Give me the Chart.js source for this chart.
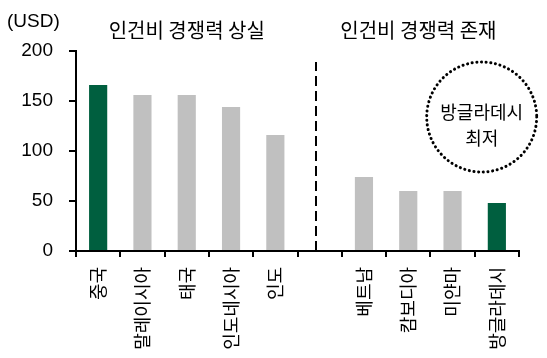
<!DOCTYPE html>
<html>
<head>
<meta charset="utf-8">
<script src="https://cdn.jsdelivr.net/npm/chart.js@4/dist/chart.umd.min.js"></script>
<style>
  html, body { margin: 0; padding: 0; background: #fff; }
  #wrap { width: 547px; height: 358px; }
</style>
</head>
<body>
<div id="wrap"><canvas id="wageChart" width="547" height="358"></canvas></div>
<script>
// Data (monthly wage, USD)
const countries = ["중국", "말레이시아", "태국", "인도네시아", "인도", "", "베트남", "캄보디아", "미얀마", "방글라데시"];
const wageUSD = [166, 156, 156, 144, 116, null, 74, 60, 60, 48];
const highlighted = [true, false, false, false, false, false, false, false, false, true];
const yTickValues = [0, 50, 100, 150, 200];
const groupTitles = ["인건비 경쟁력 상실", "인건비 경쟁력 존재"];
const noteLines = ["방글라데시", "최저"];
const unitLabel = "(USD)";

const GREEN = "#005f3f";
const GRAY = "#c0c0c0";
const KR_FONT = "'Noto Sans CJK KR', 'Noto Sans', sans-serif";
const NUM_FONT = "'Liberation Sans', Arial, sans-serif";

// Draws the dashed divider, group titles, unit label and the dotted note circle
const annotations = {
  id: "annotations",
  afterDraw(chart) {
    const ctx = chart.ctx;
    const x = chart.scales.x;
    const y = chart.scales.y;
    ctx.save();

    // dashed divider in the empty slot
    const divX = Math.round(x.getPixelForValue(5)) - 4;
    ctx.strokeStyle = "#000";
    ctx.lineWidth = 2;
    ctx.setLineDash([10, 5]);
    ctx.beginPath();
    ctx.moveTo(divX, y.getPixelForValue(0));
    ctx.lineTo(divX, y.getPixelForValue(189));
    ctx.stroke();
    ctx.setLineDash([]);

    // group titles
    ctx.fillStyle = "#000";
    ctx.font = "20px " + KR_FONT;
    ctx.textAlign = "center";
    ctx.textBaseline = "middle";
    const leftMid = (x.getPixelForValue(0) + x.getPixelForValue(4)) / 2;
    const rightMid = (x.getPixelForValue(6) + x.getPixelForValue(9)) / 2 - 12;
    ctx.fillText(groupTitles[0], leftMid, 30);
    ctx.fillText(groupTitles[1], rightMid, 30);

    // unit label
    ctx.font = "19px " + NUM_FONT;
    ctx.textAlign = "left";
    ctx.fillText(unitLabel, 7, 22);

    // dotted circle note
    const cx = (x.getPixelForValue(8) + x.getPixelForValue(9)) / 2 + 7;
    const cy = y.getPixelForValue(134);
    ctx.lineWidth = 3;
    ctx.lineCap = "round";
    ctx.setLineDash([0.1, 4.6]);
    ctx.beginPath();
    ctx.arc(cx, cy, 55, 0, Math.PI * 2);
    ctx.stroke();
    ctx.setLineDash([]);

    ctx.font = "18px " + KR_FONT;
    ctx.textAlign = "center";
    ctx.fillText(noteLines[0], cx, cy - 5);
    ctx.fillText(noteLines[1], cx, cy + 21);

    ctx.restore();
  }
};

const ctx = document.getElementById("wageChart").getContext("2d");
const wageChart = new Chart(ctx, {
  type: "bar",
  data: {
    labels: countries,
    datasets: [
      {
        data: wageUSD,
        backgroundColor: highlighted.map(function (h) { return h ? GREEN : GRAY; }),
        borderWidth: 0,
        categoryPercentage: 1,
        barPercentage: 0.41,
      },
    ],
  },
  options: {
    responsive: false,
    animation: false,
    layout: { padding: { top: 51, right: 28, left: 0, bottom: 0 } },
    plugins: {
      legend: { display: false },
      tooltip: { enabled: false },
    },
    scales: {
      x: {
        offset: true,
        grid: {
          offset: true,
          drawOnChartArea: false,
          drawTicks: true,
          tickLength: 6,
          color: "#000",
          lineWidth: 2,
        },
        border: { display: true, color: "#000", width: 2 },
        ticks: {
          autoSkip: false,
          minRotation: 90,
          maxRotation: 90,
          padding: 10,
          color: "#000",
          font: { family: KR_FONT, size: 18 },
        },
        afterFit: function (scale) {
          scale.height = 107;
        },
      },
      y: {
        min: 0,
        max: 200,
        afterBuildTicks: function (scale) {
          scale.ticks = yTickValues.map(function (v) { return { value: v }; });
        },
        grid: {
          drawOnChartArea: false,
          drawTicks: true,
          tickLength: 7,
          color: "#000",
          lineWidth: 2,
        },
        border: { display: true, color: "#000", width: 2 },
        ticks: {
          padding: 16,
          color: "#000",
          font: { family: NUM_FONT, size: 19 },
        },
        afterFit: function (scale) {
          scale.width = 76;
        },
      },
    },
  },
  plugins: [annotations],
});
</script>
</body>
</html>
